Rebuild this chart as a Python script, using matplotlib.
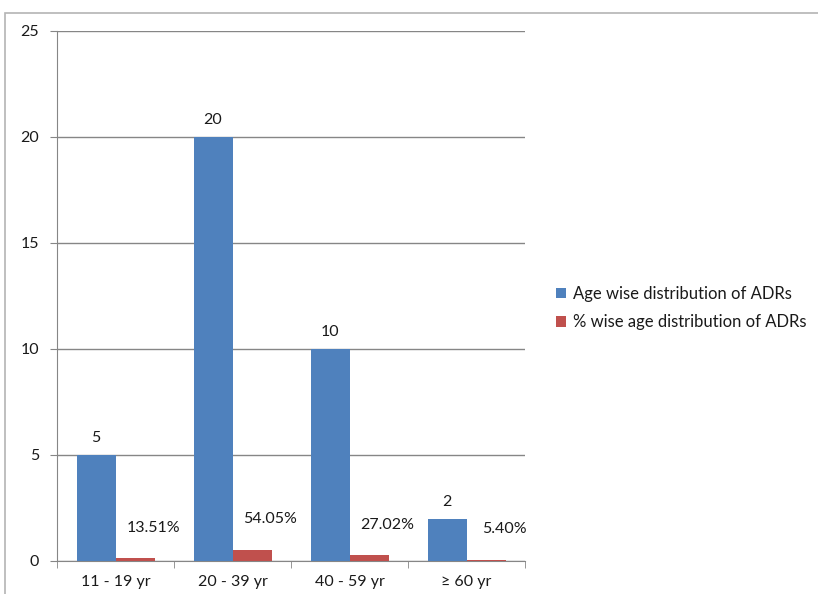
import numpy as np
import matplotlib.pyplot as plt
from matplotlib.patches import Rectangle

# data
age_groups = ['11 - 19 yr', '20 - 39 yr', '40 - 59 yr', '\u2265 60 yr']
adr_counts = [5, 20, 10, 2]
adr_percent = [0.1351, 0.5405, 0.2702, 0.0540]
percent_labels = ['13.51%', '54.05%', '27.02%', '5.40%']
series_names = ['Age wise distribution of ADRs', '% wise age distribution of ADRs']
y_ticks = [0, 5, 10, 15, 20, 25]

plt.rcParams['font.family'] = ['Lato', 'DejaVu Sans']

fig = plt.figure(figsize=(8.18, 5.94), dpi=100)
ax = fig.add_axes([57 / 818, 1 - 561 / 594, (525 - 57) / 818, (561 - 31) / 594])

# outer chart border (Excel chart area)
fig.patches.append(Rectangle((5 / 818, -0.05), 1.1, 1 - 13 / 594 + 0.05,
                             transform=fig.transFigure, fill=False,
                             edgecolor='#b4b4b4', linewidth=1.2))

x = np.arange(len(age_groups))
w = 1 / 3
blue = '#4F81BD'
red = '#C0504D'
txt = '#1a1a1a'

b1 = ax.bar(x - w / 2, adr_counts, w, color=blue, label=series_names[0], zorder=3)
b2 = ax.bar(x + w / 2, adr_percent, w, color=red, label=series_names[1], zorder=3)

for rect, v in zip(b1, adr_counts):
    ax.annotate(str(v), (rect.get_x() + rect.get_width() / 2, rect.get_height()),
                xytext=(0, 7), textcoords='offset points', ha='center', va='bottom',
                fontsize=11.5, color=txt)

for rect, lab in zip(b2, percent_labels):
    ax.annotate(lab, (rect.get_x() + rect.get_width() / 2, rect.get_height()),
                xytext=(13, 17), textcoords='offset points', ha='center', va='bottom',
                fontsize=11.5, color=txt)

ax.set_xlim(-0.5, len(age_groups) - 0.5)
ax.set_ylim(0, 25)
ax.set_yticks(y_ticks)
ax.set_xticks(x)
ax.set_xticklabels(age_groups, fontsize=11.5)
ax.set_xticks(np.arange(len(age_groups) + 1) - 0.5, minor=True)
ax.tick_params(axis='x', which='major', length=0, pad=10, colors=txt)
ax.tick_params(axis='x', which='minor', length=5, color='#868686')
ax.tick_params(axis='y', length=5, color='#868686', labelsize=11.5, labelcolor=txt, pad=8)

ax.grid(axis='y', color='#868686', linewidth=1, zorder=0)
for s in ['top', 'right']:
    ax.spines[s].set_visible(False)
for s in ['left', 'bottom']:
    ax.spines[s].set_color('#868686')

ax.legend(loc='center left', bbox_to_anchor=(541 / 818, 1 - 308 / 594),
          bbox_transform=fig.transFigure, frameon=False, fontsize=12,
          handlelength=0.6, handleheight=0.6, handletextpad=0.4, labelspacing=0.75,
          labelcolor=txt)

fig.savefig('out.png', dpi=100)
